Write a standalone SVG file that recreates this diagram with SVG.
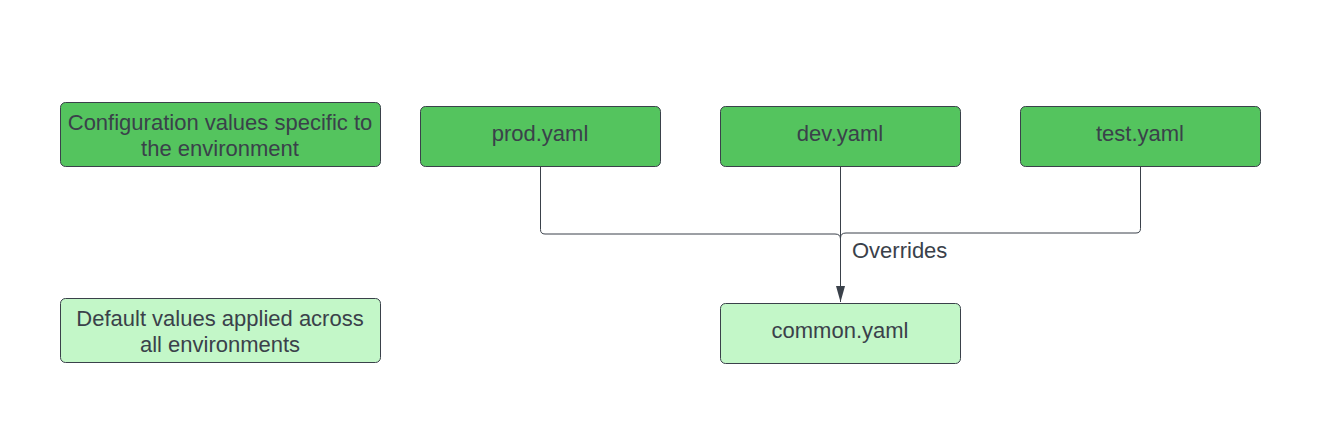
<svg xmlns="http://www.w3.org/2000/svg" width="1320" height="423" viewBox="0 0 1320 423">
<style>
.n rect{stroke:#3a414a;stroke-width:1;}
.dark{fill:#54c45e;}
.light{fill:#c3f7c8;}
text{font-family:"Liberation Sans",Arial,sans-serif;font-size:22px;fill:#3a414a;text-anchor:middle;}
.c{fill:none;stroke:#3a414a;stroke-width:1;}
</style>
<defs>
<marker id="ah" markerWidth="16" markerHeight="10" refX="16" refY="5" orient="auto" markerUnits="userSpaceOnUse" viewBox="0 0 16 10">
<path d="M0,0.5 L16,5 L0,9.5 Z" fill="#3a414a"/>
</marker>
</defs>
<rect width="1320" height="423" fill="#ffffff"/>
<g id="legend-env" class="n"><rect class="dark" x="60.5" y="102.5" width="320" height="64" rx="5"/><text x="220" y="130">Configuration values specific to</text><text x="220" y="156">the environment</text></g>
<g id="legend-default" class="n"><rect class="light" x="60.5" y="298.5" width="320" height="64" rx="5"/><text x="220" y="326">Default values applied across</text><text x="220" y="352">all environments</text></g>
<g id="prod" class="n"><rect class="dark" x="420.5" y="106.5" width="240" height="60" rx="5"/><text x="540" y="141">prod.yaml</text></g>
<g id="dev" class="n"><rect class="dark" x="720.5" y="106.5" width="240" height="60" rx="5"/><text x="840" y="141">dev.yaml</text></g>
<g id="test" class="n"><rect class="dark" x="1020.5" y="106.5" width="240" height="60" rx="5"/><text x="1140" y="141">test.yaml</text></g>
<g id="common" class="n"><rect class="light" x="720.5" y="303.5" width="240" height="60" rx="5"/><text x="840" y="338">common.yaml</text></g>
<g id="connectors">
<path class="c" d="M540.5,167 V229.5 Q540.5,234 545,234 H835 Q840.5,234 840.5,239"/>
<path class="c" d="M1140.5,167 V228.5 Q1140.5,233 1136,233 H846 Q840.5,233 840.5,238"/>
<path class="c" d="M840.5,167 V302" marker-end="url(#ah)"/>
<text x="852" y="258" style="text-anchor:start">Overrides</text>
</g>
</svg>
